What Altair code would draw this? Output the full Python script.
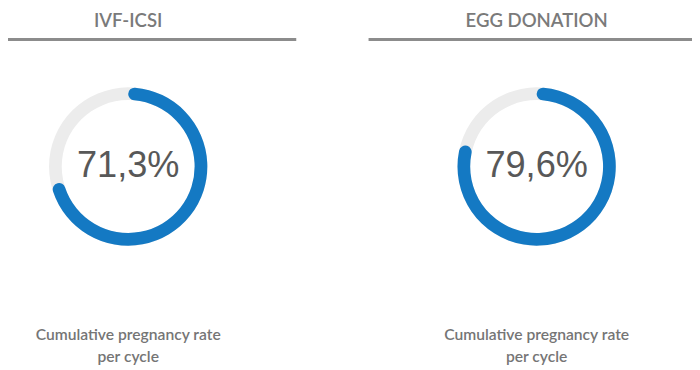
import math
import altair as alt
import pandas as pd

# ---- data ----
panel_titles = ["IVF-ICSI", "EGG DONATION"]
rates = [71.3, 79.6]
caption_lines = ["Cumulative pregnancy rate", "per cycle"]
title_offsets = [7, 7]

W = 344
H = 260
BLUE = "#1479c3"
RING = "#ececec"


def panel(title, rate, offset):
    df = pd.DataFrame({
        "rate": [rate],
        "full": [100.0],
        "label": [f"{rate:.1f}%".replace(".", ",")],
        "caption": ["\n".join(caption_lines)],
    })
    base = alt.Chart(df)
    tscale = alt.Scale(domain=[0, 100], range=[0, 2 * math.pi])
    ring = base.mark_arc(radius=81, radius2=68, color=RING).encode(
        theta=alt.Theta("full:Q", scale=tscale)
    )
    arc = base.mark_arc(radius=81, radius2=68, cornerRadius=6.5, color=BLUE).encode(
        theta=alt.Theta("rate:Q", scale=tscale)
    )
    label = base.mark_text(
        font="Liberation Sans", fontSize=37, color="#585858", baseline="middle"
    ).encode(text="label:N")
    rule = base.mark_rule(color="#8c8c8c", strokeWidth=3).encode(
        x=alt.value(0), x2=alt.value(W), y=alt.value(0)
    )
    cap = base.mark_text(
        font="Lato", fontSize=16, fontWeight=600, color="#757575",
        lineBreak="\n", lineHeight=22, baseline="top", align="center",
    ).encode(text="caption:N", y=alt.value(295))
    return alt.layer(ring, arc, label, rule, cap).properties(
        width=W,
        height=H,
        title=alt.TitleParams(
            text=title, font="Lato", fontSize=19, fontWeight=600,
            color="#7a7a7a", anchor="middle", offset=offset,
        ),
    )


chart = alt.hconcat(
    *[panel(t, r, o) for t, r, o in zip(panel_titles, rates, title_offsets)],
    spacing=70,
).properties(
    padding={"left": -51, "right": -15, "top": 0, "bottom": 0}
).configure_view(stroke=None)

chart.save("out.html", embed_options={"renderer": "svg", "actions": False})
